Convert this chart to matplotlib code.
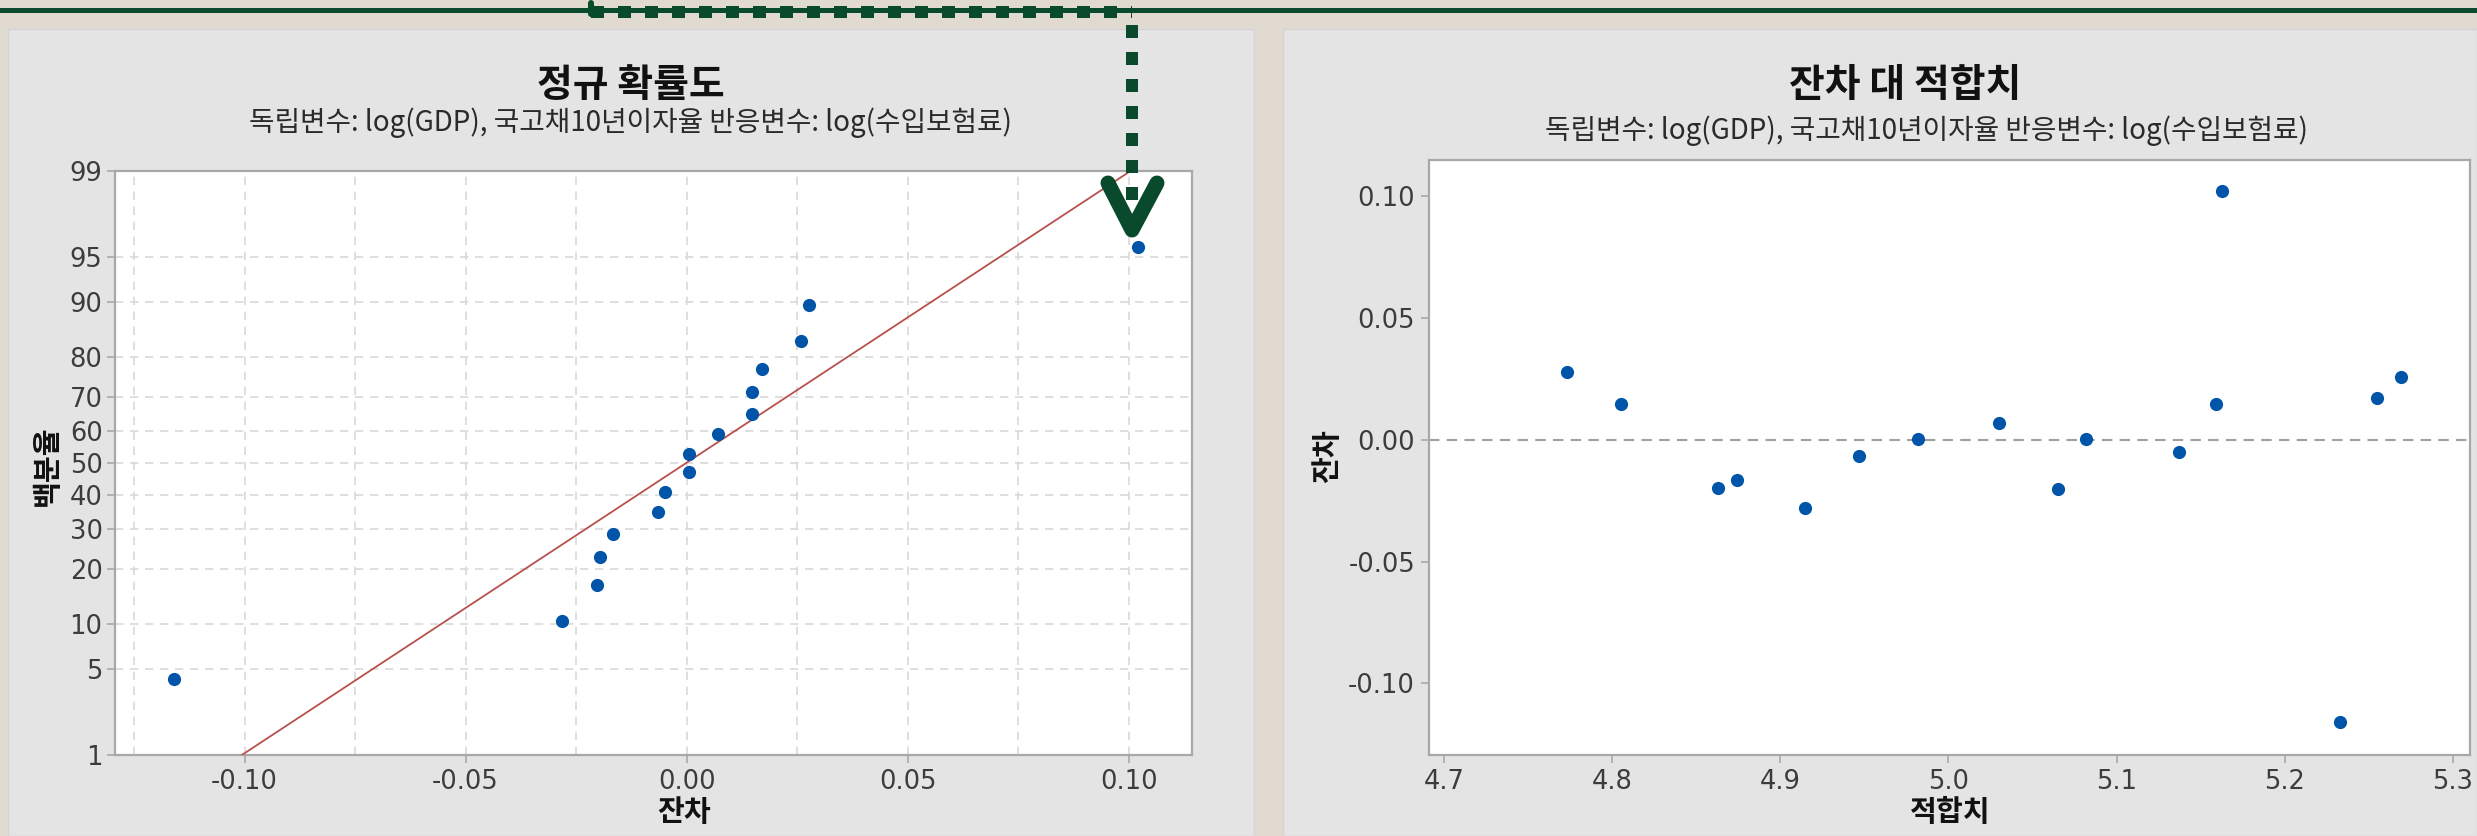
import math
import numpy as np
import matplotlib
matplotlib.use("Agg")
import matplotlib.pyplot as plt
from matplotlib.lines import Line2D
from matplotlib.patches import Rectangle

# ---------------- data ----------------
fitted = [4.773, 4.805, 4.863, 4.874, 4.915, 4.947, 4.982, 5.030,
          5.065, 5.082, 5.137, 5.159, 5.163, 5.233, 5.255, 5.269]
residuals = [0.0277, 0.0147, -0.0197, -0.0166, -0.0281, -0.0065, 0.0005, 0.0071,
             -0.0202, 0.0005, -0.0049, 0.0147, 0.1021, -0.1159, 0.0170, 0.0259]
prob_percent = [4.3, 10.4, 16.5, 22.6, 28.7, 34.8, 40.9, 47.0,
                53.0, 59.1, 65.2, 71.3, 77.4, 83.5, 89.6, 95.7]
prob_ticks = [1, 5, 10, 20, 30, 40, 50, 60, 70, 80, 90, 95, 99]
resid_ticks = [-0.10, -0.05, 0.00, 0.05, 0.10]
resid_ticklabels = ["-0.10", "-0.05", "0.00", "0.05", "0.10"]
resid_grid = [-0.125, -0.10, -0.075, -0.05, -0.025, 0.0, 0.025, 0.05, 0.075, 0.10]
fit_ticks = [4.7, 4.8, 4.9, 5.0, 5.1, 5.2, 5.3]
fit_ticklabels = ["4.7", "4.8", "4.9", "5.0", "5.1", "5.2", "5.3"]
res_yticks = [-0.10, -0.05, 0.00, 0.05, 0.10]
res_yticklabels = ["-0.10", "-0.05", "0.00", "0.05", "0.10"]

title1 = "정규 확률도"
title2 = "잔차 대 적합치"
subtitle = "독립변수: log(GDP), 국고채10년이자율 반응변수: log(수입보험료)"

# ---------------- normal probability scale ----------------
_a = [-3.969683028665376e+01, 2.209460984245205e+02, -2.759285104469687e+02,
      1.383577518672690e+02, -3.066479806614716e+01, 2.506628277459239e+00]
_b = [-5.447609879822406e+01, 1.615858368580409e+02, -1.556989798598866e+02,
      6.680131188771972e+01, -1.328068155288572e+01]
_c = [-7.784894002430293e-03, -3.223964580411365e-01, -2.400758277161838e+00,
      -2.549732539343734e+00, 4.374664141464968e+00, 2.938163982698783e+00]
_d = [7.784695709041462e-03, 3.224671290700398e-01, 2.445134137142996e+00,
      3.754408661907416e+00]


def _ppf(p):
    plow = 0.02425
    if p < plow:
        q = math.sqrt(-2 * math.log(p))
        return (((((_c[0]*q+_c[1])*q+_c[2])*q+_c[3])*q+_c[4])*q+_c[5]) / \
               ((((_d[0]*q+_d[1])*q+_d[2])*q+_d[3])*q+1)
    if p > 1 - plow:
        q = math.sqrt(-2 * math.log(1 - p))
        return -(((((_c[0]*q+_c[1])*q+_c[2])*q+_c[3])*q+_c[4])*q+_c[5]) / \
                ((((_d[0]*q+_d[1])*q+_d[2])*q+_d[3])*q+1)
    q = p - 0.5
    r = q * q
    return (((((_a[0]*r+_a[1])*r+_a[2])*r+_a[3])*r+_a[4])*r+_a[5])*q / \
           (((((_b[0]*r+_b[1])*r+_b[2])*r+_b[3])*r+_b[4])*r+1)


_vppf = np.vectorize(_ppf, otypes=[float])
_vcdf = np.vectorize(lambda z: 0.5 * (1 + math.erf(z / math.sqrt(2))), otypes=[float])


def pct_forward(p):
    p = np.clip(np.asarray(p, dtype=float) / 100.0, 1e-10, 1 - 1e-10)
    return _vppf(p)


def pct_inverse(z):
    return 100.0 * _vcdf(np.asarray(z, dtype=float))


# ---------------- figure layout (pixels) ----------------
W, H = 2477, 836
DPI = 100
fig = plt.figure(figsize=(W / DPI, H / DPI), dpi=DPI)
fig.patch.set_facecolor("#e1dad1")


def fx(x):
    return x / W


def fy(y):
    return 1 - y / H


def rect(x0, y0, x1, y1):
    return [x0 / W, 1 - y1 / H, (x1 - x0) / W, (y1 - y0) / H]


KR = ["Noto Sans CJK KR", "DejaVu Sans"]
NUM = ["DejaVu Sans"]
GRAY = "#a8a8a8"
TXT = "#3c3c3c"
BLUE = "#0055a8"
GREEN = "#0a4a2c"
TICKSIZE = 18.5
MS = 9.5

# panels
for (x0, x1) in [(8, 1254), (1283, 2477)]:
    fig.add_artist(Rectangle((x0 / W, 0), (x1 - x0) / W, 1 - 29 / H,
                             transform=fig.transFigure, facecolor="#e4e4e4",
                             edgecolor="#d4d4d4", lw=1.0, zorder=-5))

ax1 = fig.add_axes(rect(115, 171, 1192, 755))
ax2 = fig.add_axes(rect(1429, 160, 2470, 755))

for ax in (ax1, ax2):
    ax.set_facecolor("white")
    for s in ax.spines.values():
        s.set_color(GRAY)
        s.set_linewidth(1.6)
    ax.tick_params(axis="both", which="major", direction="out", length=6, width=1.2,
                   color=GRAY, labelcolor=TXT, labelsize=TICKSIZE)

# ---------------- left: normal probability plot ----------------
res = np.array(residuals)
res_sorted = np.sort(res)
mu = res.mean()
sd = res.std(ddof=1)

ax1.set_yscale("function", functions=(pct_forward, pct_inverse))
ax1.set_ylim(1, 99)
ax1.set_xlim(-0.1293, 0.1143)

line_p = np.array([1.0, 99.0])
line_x = mu + sd * pct_forward(line_p)
ax1.plot(line_x, line_p, color="#b8504c", lw=1.3, zorder=3)
ax1.plot(res_sorted, prob_percent, "o", color=BLUE, ms=MS, mec="none", zorder=4)

ax1.set_xticks(resid_ticks)
ax1.set_xticklabels(resid_ticklabels)
ax1.set_yticks(prob_ticks)
ax1.set_yticklabels([str(t) for t in prob_ticks])
ax1.yaxis.set_minor_locator(matplotlib.ticker.NullLocator())
ax1.xaxis.set_minor_locator(matplotlib.ticker.NullLocator())
for gx in resid_grid:
    ax1.axvline(gx, color="#d9d9d9", lw=1.2, ls=(0, (5, 4)), zorder=1)
for gy in prob_ticks[1:-1]:
    ax1.axhline(gy, color="#d9d9d9", lw=1.2, ls=(0, (5, 4)), zorder=1)
ax1.tick_params(axis="y", pad=3)
ax1.tick_params(axis="x", pad=4)

# ---------------- right: residuals vs fits ----------------
ax2.set_xlim(4.6911, 5.3102)
ax2.set_ylim(-0.1294, 0.1149)
ax2.axhline(0, color="#a0a0a0", lw=1.5, ls=(0, (5, 3.5)), zorder=2)
ax2.plot(fitted, residuals, "o", color=BLUE, ms=MS, mec="none", zorder=4)
ax2.set_xticks(fit_ticks)
ax2.set_xticklabels(fit_ticklabels)
ax2.set_yticks(res_yticks)
ax2.set_yticklabels(res_yticklabels)
ax2.tick_params(axis="y", pad=4)
ax2.tick_params(axis="x", pad=4)

for ax in (ax1, ax2):
    for lab in ax.get_xticklabels() + ax.get_yticklabels():
        lab.set_family(NUM)

# ---------------- titles & labels ----------------
fig.text(fx(631), fy(85), title1, family=KR, weight="bold", fontsize=28,
         ha="center", va="center", color="#111111")
fig.text(fx(630), fy(123), subtitle, family=KR, fontsize=20,
         ha="center", va="center", color="#2a2a2a")
fig.text(fx(1905), fy(85), title2, family=KR, weight="bold", fontsize=28,
         ha="center", va="center", color="#111111")
fig.text(fx(1926), fy(131), subtitle, family=KR, fontsize=20,
         ha="center", va="center", color="#2a2a2a")

fig.text(fx(684), fy(812), "잔차", family=KR, weight="bold", fontsize=21,
         ha="center", va="center", color="#111111")
fig.text(fx(1950), fy(812), "적합치", family=KR, weight="bold", fontsize=21,
         ha="center", va="center", color="#111111")
fig.text(fx(47), fy(466), "백분율", family=KR, weight="bold", fontsize=21,
         ha="center", va="center", rotation=90, color="#111111")
fig.text(fx(1327), fy(456), "잔차", family=KR, weight="bold", fontsize=21,
         ha="center", va="center", rotation=90, color="#111111")

# ---------------- green annotation (top line, dotted leader, arrowhead) ----------------
PT = 72.0 / DPI  # points per pixel
fig.add_artist(Line2D([0, 1], [fy(9.6), fy(9.6)], transform=fig.transFigure,
                      color=GREEN, lw=5 * PT, zorder=20))
fig.add_artist(Line2D([fx(591), fx(591)], [fy(3), fy(14)], transform=fig.transFigure,
                      color=GREEN, lw=6 * PT, solid_capstyle="round", zorder=21))
fig.add_artist(Line2D([fx(591), fx(1132)], [fy(12), fy(12)], transform=fig.transFigure,
                      color=GREEN, lw=12 * PT, ls=(0, (13 / 12, 14 / 12)),
                      dash_capstyle="butt", zorder=21))
fig.add_artist(Line2D([fx(1132), fx(1132)], [fy(25), fy(200)], transform=fig.transFigure,
                      color=GREEN, lw=12 * PT, ls=(0, (13 / 12, 14 / 12)),
                      dash_capstyle="butt", zorder=21))
fig.add_artist(Line2D([fx(1108), fx(1132), fx(1157)], [fy(183), fy(230), fy(183)],
                      transform=fig.transFigure, color=GREEN, lw=15 * PT,
                      solid_capstyle="round", solid_joinstyle="round", zorder=22))

fig.savefig("out.png", dpi=DPI, facecolor=fig.get_facecolor())
